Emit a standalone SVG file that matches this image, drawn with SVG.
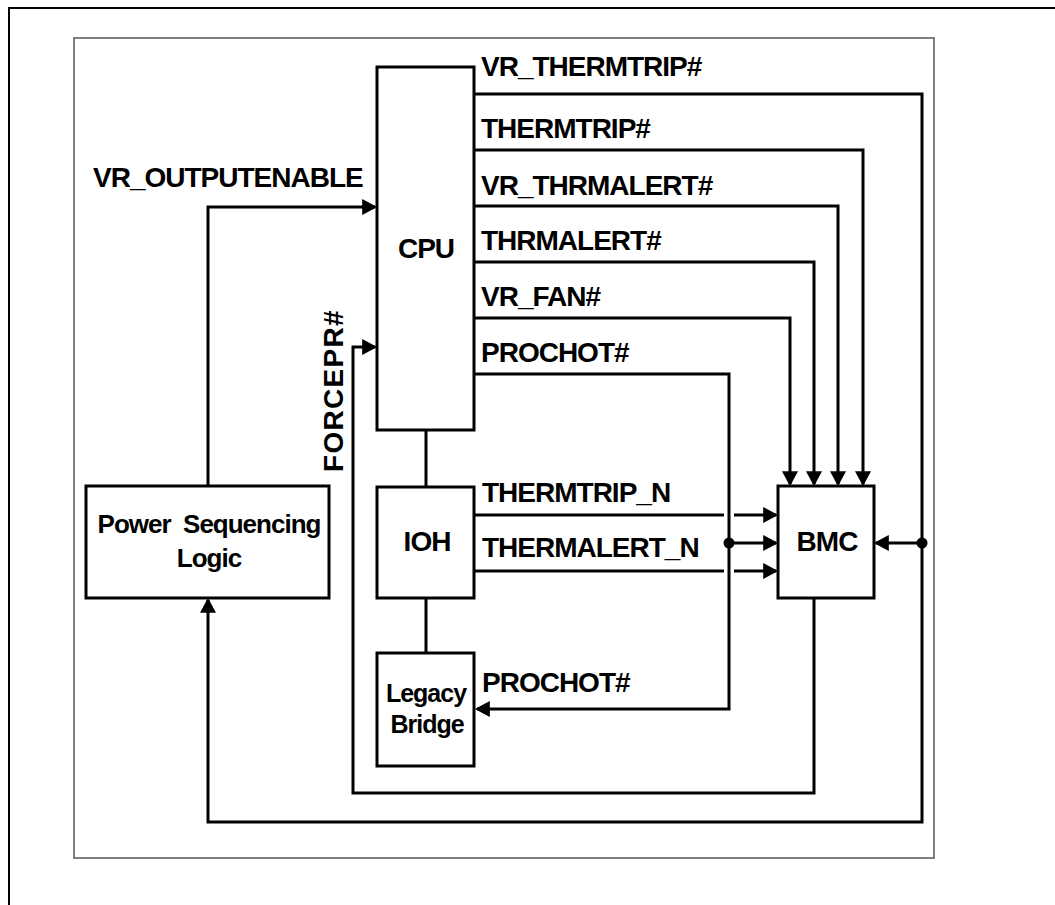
<svg xmlns="http://www.w3.org/2000/svg" width="1055" height="905" viewBox="0 0 1055 905">
<style>
.box{fill:#fff;stroke:#000;stroke-width:3}
.ln{fill:none;stroke:#000;stroke-width:3;stroke-linejoin:miter}
.t{font-family:"Liberation Sans",Arial,sans-serif;font-weight:bold;font-size:28px;letter-spacing:-1px;fill:#000}
.c{text-anchor:middle}
.s{font-size:25px}
.m{font-size:26px}
</style>
<defs>
<marker id="ah" markerUnits="userSpaceOnUse" markerWidth="16" markerHeight="16" viewBox="0 0 14 15" refX="12" refY="7.5" orient="auto">
<path d="M0,0 L14,7.5 L0,15 z" fill="#000"/>
</marker>
</defs>
<rect width="1055" height="905" fill="#fff"/>
<path d="M9,905 V8 H1055" fill="none" stroke="#000" stroke-width="2"/>
<rect x="74" y="38" width="860" height="820" fill="none" stroke="#555" stroke-width="1.5"/>

<g id="connectors">
<path class="ln" d="M474,94 H922 V822 H208 V600" marker-end="url(#ah)"/>
<path class="ln" d="M922,543 H876" marker-end="url(#ah)"/>
<path class="ln" d="M474,150 H863 V484" marker-end="url(#ah)"/>
<path class="ln" d="M474,206 H838 V484" marker-end="url(#ah)"/>
<path class="ln" d="M474,262 H814 V484" marker-end="url(#ah)"/>
<path class="ln" d="M474,318 H790 V484" marker-end="url(#ah)"/>
<path class="ln" d="M474,374 H729 V709 H477" marker-end="url(#ah)"/>
<path class="ln" d="M729,543 H776" marker-end="url(#ah)"/>
<path class="ln" d="M474,515 H724"/>
<path class="ln" d="M734,515 H776" marker-end="url(#ah)"/>
<path class="ln" d="M474,571 H724"/>
<path class="ln" d="M734,571 H776" marker-end="url(#ah)"/>
<path class="ln" d="M208,486 V207 H375" marker-end="url(#ah)"/>
<path class="ln" d="M814,598 V793 H353 V347 H375" marker-end="url(#ah)"/>
<path class="ln" d="M426,430 V487"/>
<path class="ln" d="M426,598 V653"/>
<circle cx="729" cy="543" r="5.5" fill="#000"/>
<circle cx="922" cy="543" r="5.5" fill="#000"/>
</g>

<g id="labels">
<text class="t" x="481" y="76">VR_THERMTRIP#</text>
<text class="t" x="481" y="138">THERMTRIP#</text>
<text class="t" x="481" y="195">VR_THRMALERT#</text>
<text class="t" x="481" y="250">THRMALERT#</text>
<text class="t" x="481" y="306">VR_FAN#</text>
<text class="t" x="481" y="362">PROCHOT#</text>
<text class="t" x="93" y="187">VR_OUTPUTENABLE</text>
<text class="t" x="482" y="502">THERMTRIP_N</text>
<text class="t" x="482" y="557">THERMALERT_N</text>
<text class="t" x="482" y="692">PROCHOT#</text>
<text class="t" transform="translate(343,472) rotate(-90)" style="letter-spacing:1.3px">FORCEPR#</text>
</g>

<g id="cpu">
<rect class="box" x="377" y="67" width="97" height="363"/>
<text class="t c" x="426" y="258">CPU</text>
</g>
<g id="ioh">
<rect class="box" x="377" y="487" width="97" height="111"/>
<text class="t c" x="427" y="551">IOH</text>
</g>
<g id="legacy-bridge">
<rect class="box" x="377" y="653" width="97" height="113"/>
<text class="t s c" x="426" y="702">Legacy</text>
<text class="t s c" x="427" y="733">Bridge</text>
</g>
<g id="bmc">
<rect class="box" x="778" y="486" width="96" height="112"/>
<text class="t c" x="827" y="551">BMC</text>
</g>
<g id="power-sequencing-logic">
<rect class="box" x="86" y="486" width="243" height="112"/>
<text class="t m c" x="209" y="533" xml:space="preserve">Power  Sequencing</text>
<text class="t m c" x="209" y="567">Logic</text>
</g>
</svg>
